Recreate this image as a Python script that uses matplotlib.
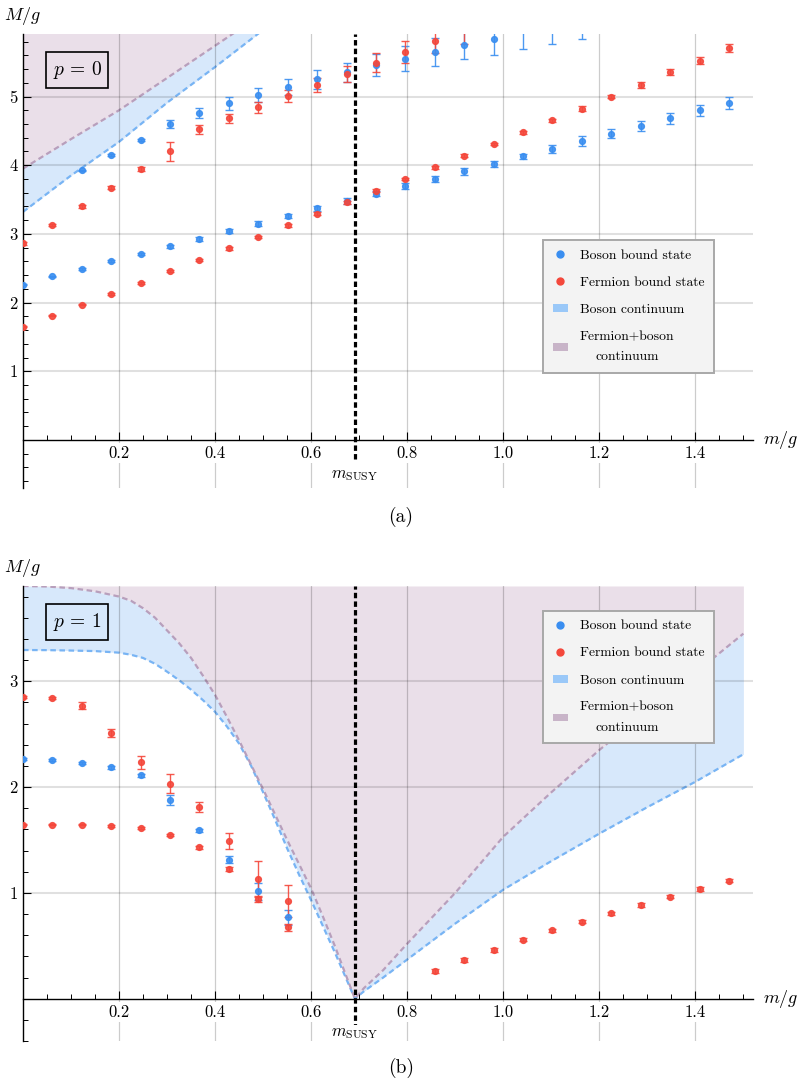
import matplotlib
matplotlib.use("Agg")
import matplotlib.pyplot as plt
from matplotlib.ticker import MultipleLocator, FixedLocator
from matplotlib.lines import Line2D
from matplotlib.patches import Patch

plt.rcParams['mathtext.fontset'] = 'cm'
plt.rcParams['font.family'] = 'serif'
plt.rcParams['font.serif'] = ['cmr10']
plt.rcParams['axes.unicode_minus'] = False

# m/g values of the simulation points
m_vals = [0.0, 0.0612, 0.1225, 0.1837, 0.245, 0.3062, 0.3675, 0.4287, 0.49, 0.5512,
          0.6125, 0.6737, 0.735, 0.7962, 0.8575, 0.9187, 0.98, 1.0412, 1.1025, 1.1637,
          1.225, 1.2862, 1.3475, 1.4087, 1.47]
m_susy = 0.691

# ---- p = 0 ----
boson_low_p0 = [2.26, 2.38, 2.49, 2.60, 2.71, 2.82, 2.93, 3.04, 3.15, 3.26, 3.37, 3.48, 3.585,
                3.70, 3.80, 3.91, 4.02, 4.13, 4.24, 4.35, 4.46, 4.57, 4.68, 4.80, 4.91]
boson_low_p0_err = [0.01, 0.01, 0.012, 0.015, 0.015, 0.02, 0.027, 0.03, 0.034, 0.034, 0.034, 0.039,
                    0.04, 0.044, 0.044, 0.053, 0.048, 0.039, 0.06, 0.068, 0.065, 0.075, 0.08, 0.08, 0.087]
fermion_low_p0 = [1.65, 1.81, 1.97, 2.13, 2.29, 2.46, 2.62, 2.79, 2.955, 3.125, 3.295, 3.46, 3.63,
                  3.80, 3.97, 4.14, 4.31, 4.48, 4.655, 4.825, 5.00, 5.17, 5.35, 5.52, 5.70]
fermion_low_p0_err = [0.012, 0.012, 0.012, 0.015, 0.015, 0.015, 0.015, 0.018, 0.018, 0.02, 0.02, 0.02,
                      0.02, 0.02, 0.02, 0.02, 0.02, 0.022, 0.022, 0.03, 0.024, 0.044, 0.044, 0.048, 0.058]
boson_up_p0_m = [0.1225, 0.1837, 0.245, 0.3062, 0.3675, 0.4287, 0.49, 0.5512, 0.6125, 0.6737,
                 0.735, 0.7962, 0.8575, 0.9187, 0.98, 1.0412, 1.1025, 1.1637]
boson_up_p0 = [3.925, 4.147, 4.365, 4.60, 4.76, 4.90, 5.02, 5.14, 5.25, 5.35, 5.46, 5.55, 5.65,
               5.75, 5.84, 5.97, 6.07, 6.14]
boson_up_p0_err = [0.012, 0.012, 0.015, 0.053, 0.078, 0.092, 0.104, 0.116, 0.136, 0.145, 0.16,
                   0.18, 0.2, 0.21, 0.23, 0.28, 0.30, 0.30]
fermion_up_p0_m = [0.0, 0.0612, 0.1225, 0.1837, 0.245, 0.3062, 0.3675, 0.4287, 0.49, 0.5512,
                   0.6125, 0.6737, 0.735, 0.7962, 0.8575, 0.9187]
fermion_up_p0 = [2.86, 3.125, 3.40, 3.67, 3.94, 4.20, 4.52, 4.68, 4.84, 5.01, 5.17, 5.33, 5.49,
                 5.65, 5.81, 5.97]
fermion_up_p0_err = [0.015, 0.015, 0.02, 0.02, 0.03, 0.14, 0.06, 0.07, 0.08, 0.09, 0.1, 0.115,
                     0.14, 0.16, 0.17, 0.2]

cont_p0_m = [0.0, 0.1, 0.2, 0.3, 0.4, 0.5, 0.6]
boson_cont_p0 = [3.32, 3.85, 4.34, 4.91, 5.43, 5.97, 6.50]
mixed_cont_p0 = [3.95, 4.38, 4.80, 5.27, 5.74, 6.21, 6.68]

# ---- p = 1 ----
boson_p1_m = [0.0, 0.0612, 0.1225, 0.1837, 0.245, 0.3062, 0.3675, 0.4287, 0.49, 0.5512]
boson_p1 = [2.264, 2.255, 2.23, 2.185, 2.11, 1.876, 1.59, 1.315, 1.015, 0.77]
boson_p1_err = [0.008, 0.008, 0.01, 0.01, 0.012, 0.045, 0.015, 0.035, 0.08, 0.07]
fermion_a_p1 = [2.85, 2.845, 2.77, 2.51, 2.235, 2.03, 1.81, 1.49, 1.13, 0.92]
fermion_a_p1_err = [0.01, 0.01, 0.03, 0.035, 0.063, 0.09, 0.045, 0.072, 0.17, 0.15]
fermion_b_p1 = [1.646, 1.646, 1.646, 1.636, 1.61, 1.545, 1.43, 1.223, 0.94, 0.675]
fermion_b_p1_err = [0.008, 0.008, 0.008, 0.01, 0.01, 0.01, 0.012, 0.02, 0.03, 0.033]
fermion_c_p1_m = [0.8575, 0.9187, 0.98, 1.0412, 1.1025, 1.1637, 1.225, 1.2862, 1.3475, 1.4087, 1.47]
fermion_c_p1 = [0.265, 0.369, 0.463, 0.558, 0.646, 0.728, 0.807, 0.886, 0.965, 1.04, 1.116]
fermion_c_p1_err = [0.02, 0.018, 0.018, 0.015, 0.015, 0.015, 0.015, 0.015, 0.015, 0.018, 0.018]

cont_p1_m = [0.0, 0.05, 0.1, 0.15, 0.2, 0.225, 0.25, 0.275, 0.3, 0.325, 0.35, 0.375, 0.4,
             0.425, 0.45, 0.475, 0.5, 0.525, 0.55, 0.575, 0.6, 0.625, 0.65, 0.67, 0.691,
             0.71, 0.75, 0.8, 0.9, 1.0, 1.1, 1.2, 1.3, 1.4, 1.5]
boson_cont_p1 = [3.295, 3.294, 3.29, 3.285, 3.27, 3.25, 3.22, 3.165, 3.09, 3.01, 2.92, 2.82, 2.71,
                 2.57, 2.41, 2.20, 1.95, 1.69, 1.42, 1.17, 0.93, 0.68, 0.43, 0.22, 0.0,
                 0.07, 0.2, 0.37, 0.71, 1.03, 1.30, 1.56, 1.81, 2.05, 2.31]
mixed_cont_p1 = [3.90, 3.895, 3.88, 3.85, 3.80, 3.76, 3.69, 3.60, 3.48, 3.36, 3.22, 3.05, 2.87,
                 2.66, 2.44, 2.21, 1.98, 1.74, 1.50, 1.27, 1.04, 0.77, 0.49, 0.25, 0.0,
                 0.1, 0.27, 0.52, 1.0, 1.53, 1.95, 2.35, 2.72, 3.08, 3.45]

blue = '#3a8ef0'
red = '#f4473b'
fill_blue = '#d7e8fb'
fill_purple = '#eadfe9'
line_blue = '#78b4f4'
line_purple = '#b89fbc'


def points(ax, x, y, err, color):
    ax.errorbar(x, y, yerr=err, fmt='o', ms=4.2, color=color, ecolor=color,
                elinewidth=1.0, capsize=3, capthick=1.0, zorder=4, alpha=0.9)


def panel(ax, ymin, ymax, yticks, label, legend_y):
    ax.set_xlim(0, 1.52)
    ax.set_ylim(ymin, ymax)
    ax.spines['top'].set_visible(False)
    ax.spines['right'].set_visible(False)
    ax.spines['bottom'].set_position(('data', 0))
    ax.spines['left'].set_linewidth(1.0)
    ax.spines['bottom'].set_linewidth(1.0)

    ax.xaxis.set_major_locator(FixedLocator([0.2, 0.4, 0.6, 0.8, 1.0, 1.2, 1.4]))
    ax.set_xticklabels(['0.2', '0.4', '0.6', '0.8', '1.0', '1.2', '1.4'])
    ax.xaxis.set_minor_locator(MultipleLocator(0.05))
    ax.yaxis.set_major_locator(FixedLocator(yticks))
    ax.set_yticklabels([str(v) for v in yticks])
    ax.yaxis.set_minor_locator(MultipleLocator(0.2))
    ax.tick_params(which='major', direction='in', length=6, width=0.8, labelsize=12, pad=4)
    ax.tick_params(which='minor', direction='in', length=3.5, width=0.7)
    for lbl in ax.get_xticklabels():
        lbl.set_bbox(dict(fc='white', ec='none', pad=1.5))

    ax.set_axisbelow(False)
    ax.xaxis.grid(True, which='major', color='k', alpha=0.2, lw=0.9)
    ax.yaxis.grid(True, which='major', color='k', alpha=0.12, lw=1.5)

    ax.vlines(m_susy, -0.285, ymax, colors='k', lw=2.3, linestyles=(0, (1.7, 1.0)), zorder=5)
    ax.annotate(r'$m_{\mathrm{SUSY}}$', xy=(m_susy, 0), xytext=(0, -35),
                textcoords='offset pixels', ha='center', va='center', fontsize=12,
                bbox=dict(fc='white', ec='none', pad=0.5), zorder=6)
    ax.annotate(r'$M/g$', xy=(0, 1), xycoords='axes fraction', xytext=(0, 18),
                textcoords='offset pixels', ha='center', va='center', fontsize=13)
    ax.text(1.577, 0, r'$m/g$', ha='center', va='center', fontsize=13, clip_on=False)
    ax.annotate(label, xy=(0, 1), xycoords='axes fraction', xytext=(54, -36),
                textcoords='offset pixels', ha='center', va='center', fontsize=14,
                bbox=dict(boxstyle='square,pad=0.35', fc='none', ec='k', lw=1.2))

    handles = [Line2D([], [], marker='o', ls='none', color=blue, ms=5),
               Line2D([], [], marker='o', ls='none', color=red, ms=5),
               Patch(facecolor='#9ac8f8', edgecolor='none'),
               Patch(facecolor='#c8b4c8', edgecolor='none')]
    labels = ['Boson bound state', 'Fermion bound state', 'Boson continuum',
              'Fermion+boson\ncontinuum']
    leg = ax.legend(handles, labels, loc='upper left', bbox_to_anchor=(543 / 802, legend_y),
                    bbox_transform=fig.transFigure, borderaxespad=0, fontsize=9.8,
                    fancybox=False, framealpha=1, facecolor='#f3f3f3', edgecolor='#a8a8a8',
                    handlelength=1.15, handleheight=0.5, handletextpad=0.85,
                    labelspacing=1.1, borderpad=0.7)
    leg.get_frame().set_linewidth(1.4)
    for t in leg.get_texts():
        t.set_multialignment('center')
        t.set_linespacing(1.9)


fig = plt.figure(figsize=(8.02, 10.86), dpi=100)
ax1 = fig.add_axes([23 / 802, 1 - 488 / 1086, 730 / 802, 454 / 1086])
ax2 = fig.add_axes([23 / 802, 1 - 1041 / 1086, 730 / 802, 455 / 1086])

# top panel, p = 0
ax1.fill_between(cont_p0_m, boson_cont_p0, 7, color=fill_blue, lw=0, zorder=1)
ax1.fill_between(cont_p0_m, mixed_cont_p0, 7, color=fill_purple, lw=0, zorder=1)
ax1.plot(cont_p0_m, boson_cont_p0, color=line_blue, lw=1.6, ls=(0, (2.5, 1.6)), zorder=2)
ax1.plot(cont_p0_m, mixed_cont_p0, color=line_purple, lw=1.6, ls=(0, (2.5, 1.6)), zorder=2)
points(ax1, m_vals, boson_low_p0, boson_low_p0_err, blue)
points(ax1, boson_up_p0_m, boson_up_p0, boson_up_p0_err, blue)
points(ax1, m_vals, fermion_low_p0, fermion_low_p0_err, red)
points(ax1, fermion_up_p0_m, fermion_up_p0, fermion_up_p0_err, red)
panel(ax1, -0.70, 5.91, [1, 2, 3, 4, 5], r'$p\,=\,0$', 1 - 240 / 1086)

# bottom panel, p = 1
ax2.fill_between(cont_p1_m, boson_cont_p1, mixed_cont_p1, color=fill_blue, lw=0, zorder=1)
ax2.fill_between(cont_p1_m, mixed_cont_p1, 3.9, color=fill_purple, lw=0, zorder=1)
ax2.plot(cont_p1_m, boson_cont_p1, color=line_blue, lw=1.6, ls=(0, (2.5, 1.6)), zorder=2)
ax2.plot(cont_p1_m, mixed_cont_p1, color=line_purple, lw=1.6, ls=(0, (2.5, 1.6)), zorder=2)
points(ax2, boson_p1_m, boson_p1, boson_p1_err, blue)
points(ax2, boson_p1_m, fermion_a_p1, fermion_a_p1_err, red)
points(ax2, boson_p1_m, fermion_b_p1, fermion_b_p1_err, red)
points(ax2, fermion_c_p1_m, fermion_c_p1, fermion_c_p1_err, red)
panel(ax2, -0.40, 3.90, [1, 2, 3], r'$p\,=\,1$', 1 - 610.7 / 1086)

fig.text(0.5, 1 - 517 / 1086, '(a)', ha='center', va='center', fontsize=14)
fig.text(0.5, 1 - 1068 / 1086, '(b)', ha='center', va='center', fontsize=14)

fig.savefig('out.png', dpi=100)
